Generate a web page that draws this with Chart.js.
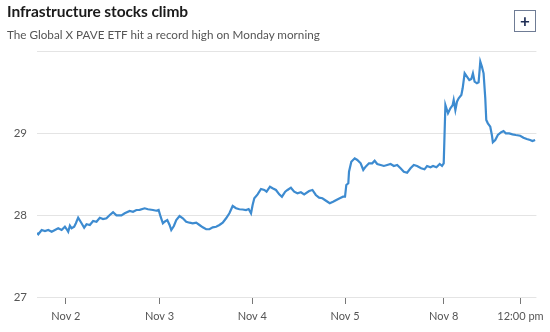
<!DOCTYPE html>
<html>
<head>
<meta charset="utf-8">
<script src="https://cdn.jsdelivr.net/npm/chart.js@4.4.0/dist/chart.umd.min.js"></script>
<style>
  html, body { margin: 0; padding: 0; background: #fff; }
  #wrap { position: relative; width: 550px; height: 332px; overflow: hidden; font-family: Lato, "Open Sans", sans-serif; }
  #title { position: absolute; left: 7px; top: 2px; font-size: 15.5px; font-weight: 700; color: #1b1b1b; letter-spacing: -0.1px; }
  #subtitle { position: absolute; left: 7px; top: 27px; font-size: 11.7px; color: #555; }
  #expand { position: absolute; left: 514px; top: 10px; width: 22px; height: 22px; box-sizing: border-box;
            border: 1px solid #6f7c95; color: #1e2d55; font-size: 17px; font-weight: 700; line-height: 19px; text-align: center; }
  canvas { position: absolute; left: 0; top: 0; }
</style>
</head>
<body>
<div id="wrap">
  <canvas id="chart" width="550" height="332"></canvas>
  <div id="title">Infrastructure stocks climb</div>
  <div id="subtitle">The Global X PAVE ETF hit a record high on Monday morning</div>
  <div id="expand">+</div>
</div>
<script>
// Position along the five-session trading timeline (Nov 1 afternoon through Nov 8 midday)
const sessionPos = [
  0, 1.3, 4.7, 8, 11.3, 14.7, 18, 21.3, 24.7, 28, 29.7, 31.3, 33, 34.7, 37.3, 39, 41.3, 44.7, 47.3, 49.7,
  53, 56.3, 59.7, 63, 66.3, 69.7, 73, 76.3, 79.7, 84.7, 88, 93, 96.3, 99.7, 103, 108, 111.3, 116.3, 119.7, 122,
  124, 126.3, 128, 130.7, 133, 134.7, 137.3, 139.7, 143, 146.3, 149.7, 153, 156.3, 159.7, 163, 166.3, 169.7, 173, 176.3, 179.7,
  183, 186.3, 189.7, 193, 196.3, 199.7, 203, 206.3, 209.7, 212.3, 214.7, 216.3, 218, 221.3, 224.7, 228, 230.3, 233.7, 236.3, 239.7,
  243, 245.7, 249, 251.3, 254.7, 258, 261.3, 264.7, 268, 273, 276.3, 279.7, 283, 286.3, 290.3, 293.7, 297, 300.3, 303.7, 307,
  309, 310.3, 312.3, 313, 315.3, 318.7, 321.3, 324.7, 327.3, 329.7, 333, 336.3, 338.7, 341.3, 344.7, 348, 351.3, 354.7, 358, 361.3,
  364.7, 368, 371.3, 374.7, 378, 381.3, 385.3, 388.7, 391.3, 394.7, 397.3, 400.7, 404, 406.3, 408, 409.7, 412.3, 414.7, 417, 418,
  419.7, 421.3, 423, 425.7, 427, 429, 431.3, 433.7, 435.7, 437.3, 439, 441.3, 443, 444.7, 446.3, 448, 449.7, 450.7, 452.3, 454.7,
  456.3, 457.3, 459.7, 462.3, 465.7, 468, 470.3, 473.7, 477, 480.3, 484.7, 488, 491.3, 494.7, 497, 499.7
];

// Global X U.S. Infrastructure Development ETF (PAVE) price
const pavePrice = [
  27.780, 27.765, 27.817, 27.805, 27.817, 27.796, 27.817, 27.838, 27.817, 27.857, 27.829, 27.796, 27.870, 27.838, 27.857, 27.899, 27.967, 27.899, 27.845, 27.887,
  27.878, 27.927, 27.918, 27.967, 27.951, 27.960, 28.000, 28.033, 27.996, 27.996, 28.021, 28.049, 28.040, 28.061, 28.063, 28.082, 28.070, 28.061, 28.052, 28.061,
  27.979, 27.899, 27.918, 27.939, 27.878, 27.817, 27.866, 27.939, 27.988, 27.960, 27.918, 27.906, 27.899, 27.906, 27.878, 27.850, 27.826, 27.826, 27.850, 27.857,
  27.878, 27.906, 27.960, 28.021, 28.110, 28.082, 28.070, 28.067, 28.061, 28.073, 28.021, 28.122, 28.204, 28.252, 28.317, 28.305, 28.284, 28.345, 28.326, 28.305,
  28.252, 28.223, 28.284, 28.305, 28.333, 28.284, 28.265, 28.277, 28.252, 28.293, 28.305, 28.244, 28.211, 28.204, 28.171, 28.143, 28.162, 28.183, 28.204, 28.223,
  28.223, 28.366, 28.387, 28.528, 28.650, 28.691, 28.671, 28.630, 28.549, 28.589, 28.630, 28.630, 28.662, 28.622, 28.610, 28.598, 28.610, 28.622, 28.598, 28.610,
  28.570, 28.528, 28.516, 28.570, 28.610, 28.598, 28.570, 28.557, 28.598, 28.582, 28.598, 28.582, 28.622, 28.598, 28.630, 29.341, 29.240, 29.301, 29.341, 29.402,
  29.280, 29.382, 29.423, 29.463, 29.545, 29.728, 29.687, 29.646, 29.659, 29.728, 29.626, 29.606, 29.618, 29.870, 29.809, 29.728, 29.423, 29.159, 29.118, 29.077,
  28.976, 28.887, 28.915, 28.976, 29.009, 29.024, 28.996, 28.996, 28.984, 28.976, 28.967, 28.943, 28.927, 28.915, 28.902, 28.915
];

// Time-axis labels and where they fall on the session timeline
const xTickLabels = ['Nov 2', 'Nov 3', 'Nov 4', 'Nov 5', 'Nov 8', '12:00 pm'];
const xTickPos = [29, 123, 216, 309, 408, 485];

// Price axis
const yMin = 27;
const yMax = 30;

const points = sessionPos.map((t, i) => ({ x: t, y: pavePrice[i] }));

new Chart(document.getElementById('chart'), {
  type: 'line',
  data: {
    datasets: [{
      data: points,
      borderColor: '#3d8bd0',
      borderWidth: 2.2,
      pointRadius: 0,
      tension: 0,
      fill: false
    }]
  },
  options: {
    responsive: false,
    animation: false,
    events: [],
    layout: { padding: { top: 51, right: 12, left: 0, bottom: 0 } },
    plugins: { legend: { display: false }, tooltip: { enabled: false } },
    scales: {
      x: {
        type: 'linear',
        min: 0,
        max: 501,
        afterBuildTicks: (scale) => { scale.ticks = xTickPos.map(v => ({ value: v })); },
        afterFit: (scale) => { scale.height = 35; },
        ticks: {
          autoSkip: false,
          maxRotation: 0,
          padding: 6,
          color: '#555',
          font: { family: 'Lato', size: 11 },
          callback: (value, index) => xTickLabels[index]
        },
        grid: { drawOnChartArea: false, drawTicks: true, tickLength: 7, tickColor: '#777', color: '#777' },
        border: { display: false }
      },
      y: {
        min: yMin,
        max: yMax,
        afterFit: (scale) => { scale.width = 37; },
        ticks: {
          stepSize: 1,
          padding: 10,
          color: '#555',
          font: { family: 'Lato', size: 11.5 },
          callback: (v) => (v === yMax ? '' : v)
        },
        grid: { color: '#e4e4e4', lineWidth: 1, drawTicks: false },
        border: { display: false }
      }
    }
  }
});
</script>
</body>
</html>
